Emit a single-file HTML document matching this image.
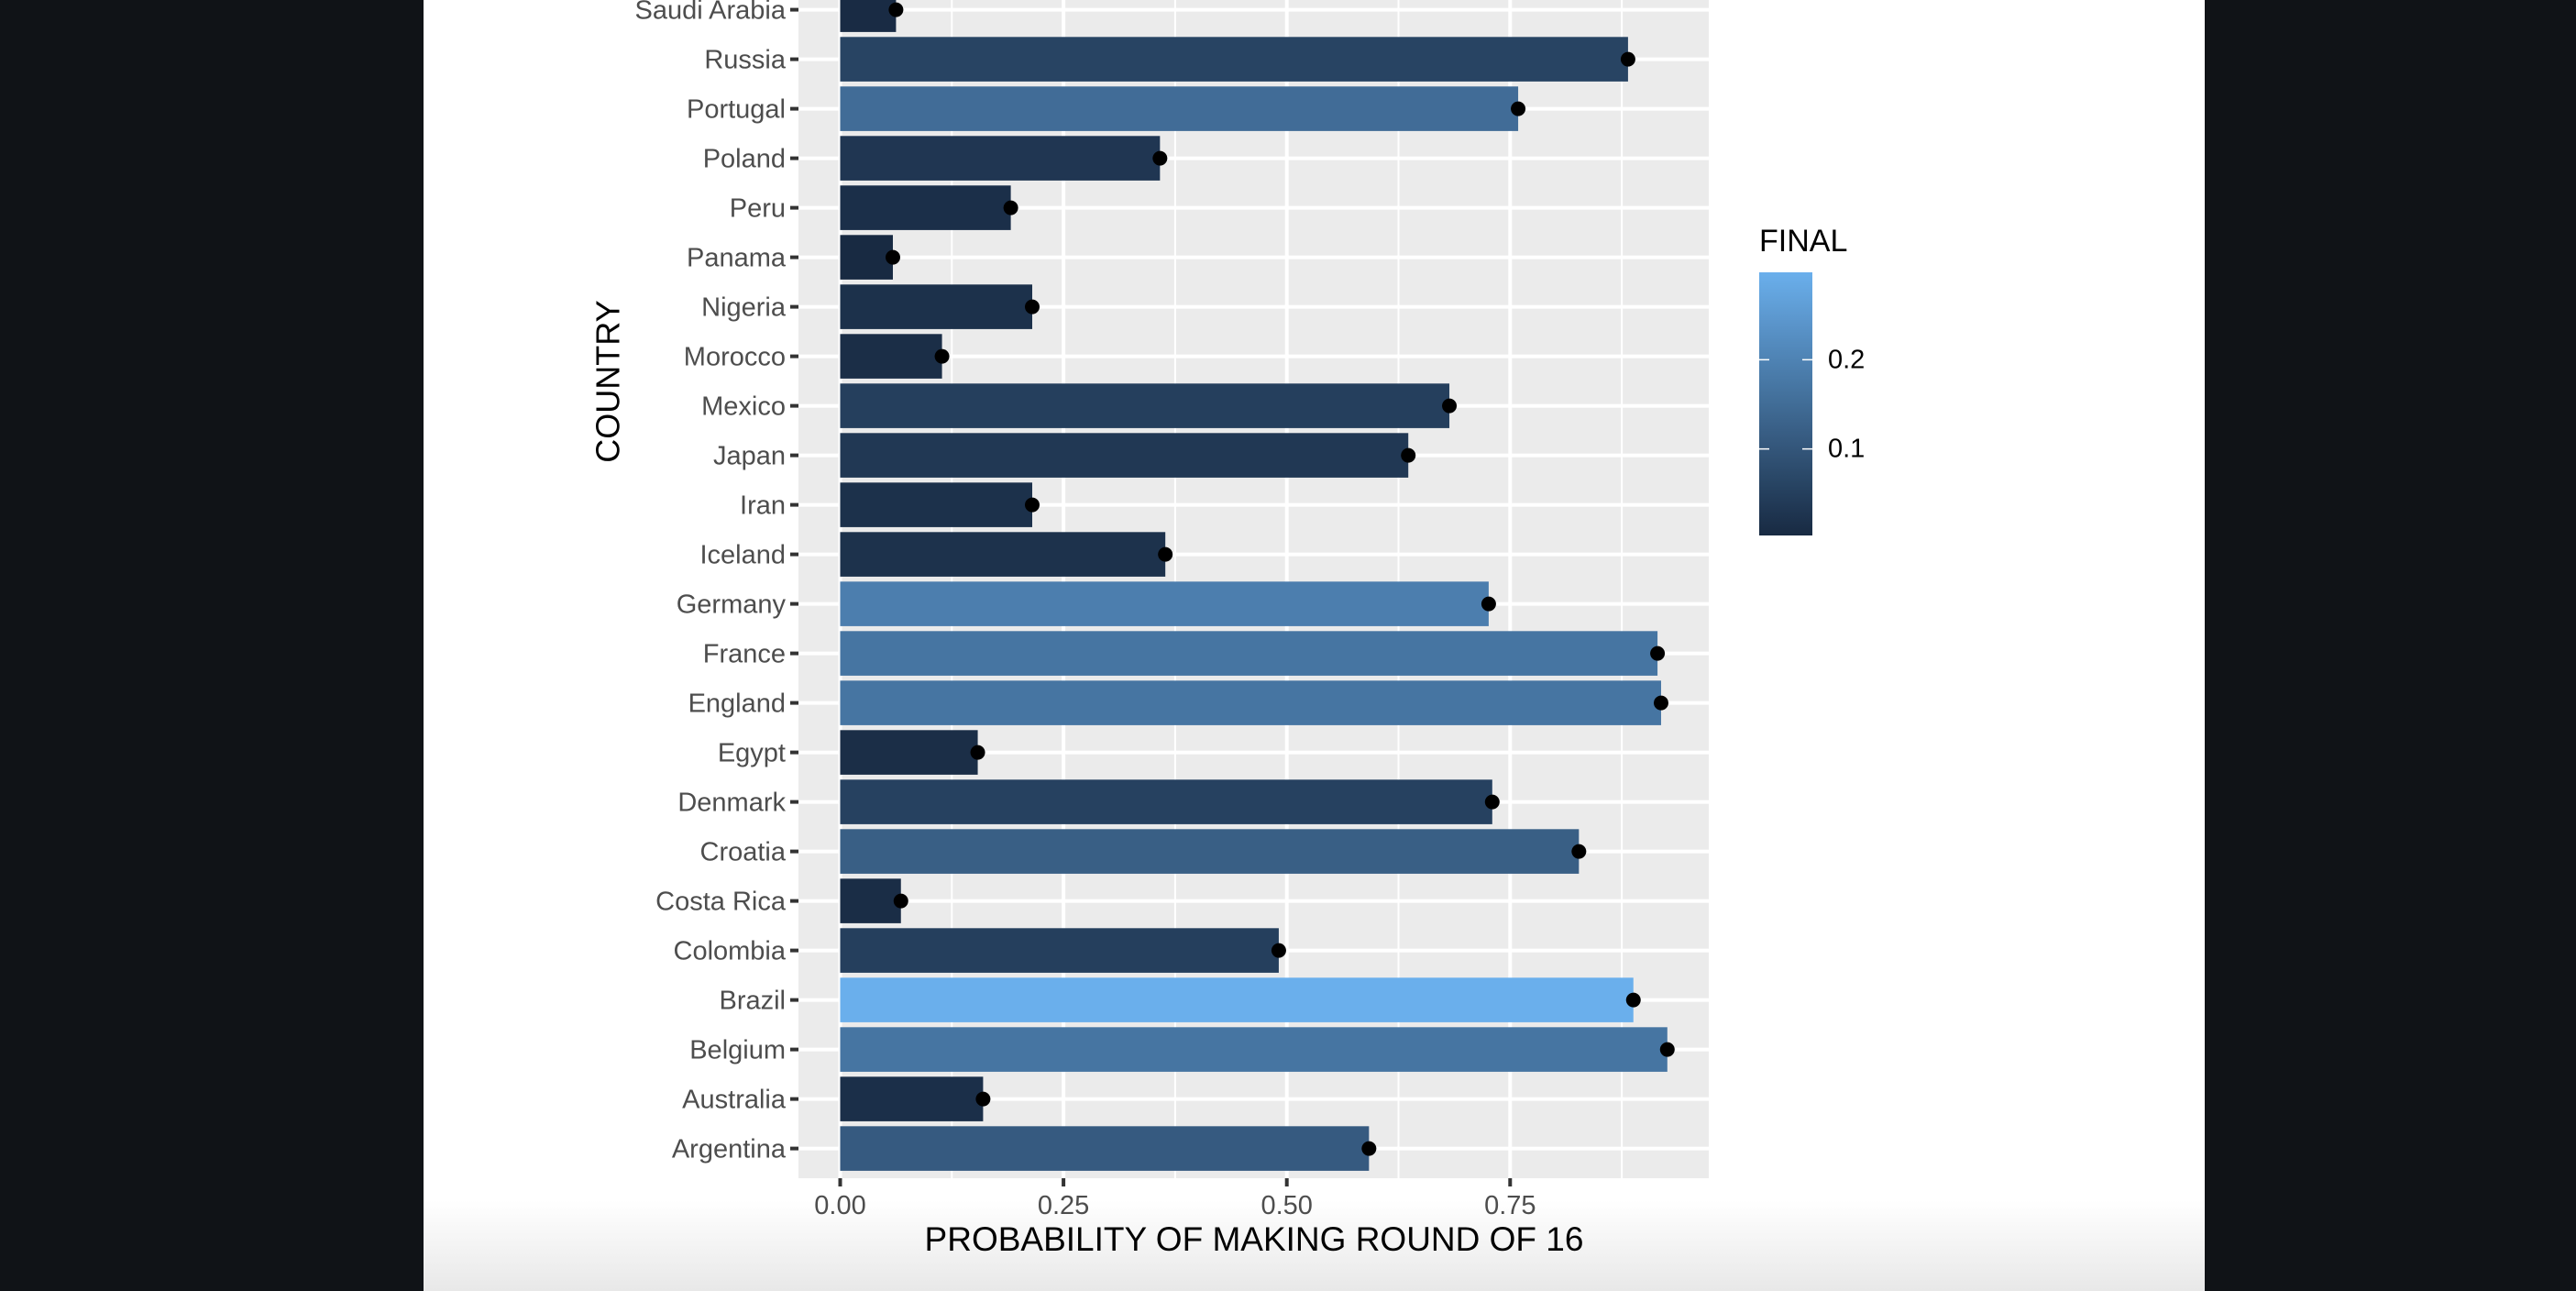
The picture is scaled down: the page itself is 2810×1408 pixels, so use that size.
<!DOCTYPE html>
<html><head><meta charset="utf-8"><style>
html,body{margin:0;padding:0;width:2810px;height:1408px;overflow:hidden;background:#101317;}
svg{display:block;font-family:"Liberation Sans",sans-serif;}
</style></head><body>
<svg id="chart" width="2810" height="1408" viewBox="0 0 2810 1408">
<defs>
<linearGradient id="pagefade" x1="0" y1="0" x2="0" y2="1">
<stop offset="0" stop-color="#ffffff"/><stop offset="0.93" stop-color="#ffffff"/><stop offset="1" stop-color="#e8e8e8"/>
</linearGradient>
<linearGradient id="cbar" x1="0" y1="1" x2="0" y2="0"></linearGradient>
</defs>
<rect x="0" y="0" width="2810" height="1408" fill="#101317"/>
<rect x="462" y="0" width="1943" height="1408" fill="url(#pagefade)"/>
<rect x="871" y="-30" width="993" height="1315" fill="#EBEBEB"/>
<g id="grid"></g>
<g id="bars"></g>
<g id="dots"></g>
<g id="yaxis"></g>
<g id="xaxis"></g>
<text x="663" y="416" transform="rotate(-90 663 416)" text-anchor="middle" dominant-baseline="central" font-size="36" fill="#000">COUNTRY</text>
<text x="1368" y="1364" text-anchor="middle" font-size="37" fill="#000">PROBABILITY OF MAKING ROUND OF 16</text>
<g id="legend">
<text x="1919" y="274" font-size="34" fill="#000">FINAL</text>
<rect x="1919" y="297" width="58" height="287" fill="url(#cbar)"/>
<g id="legendticks"></g>
</g>
</svg>
<script>
const countries=["Argentina","Australia","Belgium","Brazil","Colombia","Costa Rica","Croatia","Denmark","Egypt","England","France","Germany","Iceland","Iran","Japan","Mexico","Morocco","Nigeria","Panama","Peru","Poland","Portugal","Russia","Saudi Arabia"];
const r16=[0.592,0.160,0.926,0.888,0.491,0.068,0.827,0.730,0.154,0.919,0.915,0.726,0.364,0.215,0.636,0.682,0.114,0.215,0.059,0.191,0.358,0.759,0.882,0.0625];
const finalProb=[0.11,0.015,0.17,0.298,0.05,0.01,0.12,0.055,0.012,0.17,0.17,0.19,0.02,0.018,0.035,0.05,0.012,0.018,0.003,0.015,0.03,0.15,0.06,0.006];
const xTicks=[0,0.25,0.5,0.75];
const xTickLabels=["0.00","0.25","0.50","0.75"];
const legendTicks=[0.1,0.2];
const legendLabels=["0.1","0.2"];

const NS="http://www.w3.org/2000/svg";
const x0=916.5, xUnit=974.4, px0=871, px1=1864, py1=1285;
const rowBase=1252.6, rowStep=54.0;
const xs=v=>x0+v*xUnit;
const ys=i=>rowBase-i*rowStep;
const fmin=Math.min(...finalProb), fmax=Math.max(...finalProb);
const lo=[0x18,0x2A,0x42], hi=[0x6A,0xAF,0xEC];
function colT(t){return "rgb("+lo.map((c,k)=>Math.round(c+(hi[k]-c)*t)).join(",")+")";}
function col(v){return colT((v-fmin)/(fmax-fmin));}
function mk(tag,attrs,parent){const e=document.createElementNS(NS,tag);for(const k in attrs)e.setAttribute(k,attrs[k]);parent.appendChild(e);return e;}
const cg=document.getElementById("cbar");
for(let i=0;i<=10;i++){mk("stop",{offset:i/10,"stop-color":colT(i/10)},cg);}
const grid=document.getElementById("grid"),bars=document.getElementById("bars"),dots=document.getElementById("dots"),yax=document.getElementById("yaxis"),xax=document.getElementById("xaxis");
for(let i=0;i<xTicks.length;i++){
  const m=xTicks[i]+0.125;
  if(xs(m)<px1){const l=mk("line",{x1:xs(m),x2:xs(m),y1:-30,y2:py1,stroke:"#fff","stroke-width":2},grid);
  
  }
}
xTicks.forEach((t,i)=>{
  const l=mk("line",{x1:xs(t),x2:xs(t),y1:-30,y2:py1,stroke:"#fff","stroke-width":4},grid);
  
  
  const tk=mk("line",{x1:xs(t),x2:xs(t),y1:py1,y2:py1+9,stroke:"#333","stroke-width":4},xax);
  
  
  const tx=mk("text",{x:xs(t),y:1324,"text-anchor":"middle","font-size":29,fill:"#4D4D4D"},xax);
  tx.textContent=xTickLabels[i];
  
  
});
countries.forEach((c,i)=>{
  const y=ys(i);
  const g=mk("line",{x1:px0,x2:px1,y1:y,y2:y,stroke:"#fff","stroke-width":4},grid);
  
  
  const b=mk("rect",{x:xs(0),y:y-24.3,width:xs(r16[i])-xs(0),height:48.6,fill:col(finalProb[i])},bars);
  
  
  const d=mk("circle",{cx:xs(r16[i]),cy:y,r:8,fill:"#000"},dots);
  
  
  const tk=mk("line",{x1:px0-9,x2:px0,y1:y,y2:y,stroke:"#333","stroke-width":4},yax);
  
  
  const t=mk("text",{x:857,y:y+1,"text-anchor":"end","dominant-baseline":"central","font-size":29,fill:"#4D4D4D"},yax);
  t.textContent=c;
  
  
});
const lt=document.getElementById("legendticks");
const cbTop=297,cbBot=584;
const ly=v=>cbBot-(v-fmin)/(fmax-fmin)*(cbBot-cbTop);
legendTicks.forEach((v,i)=>{
  const y=ly(v);
  const a=mk("line",{x1:1919,x2:1930,y1:y,y2:y,stroke:"#fff","stroke-width":1.5},lt);
  
  
  const b=mk("line",{x1:1966,x2:1977,y1:y,y2:y,stroke:"#fff","stroke-width":1.5},lt);
  
  
  const t=mk("text",{x:1994,y:y,"dominant-baseline":"central","font-size":29,fill:"#000"},lt);
  t.textContent=legendLabels[i];
  
  
});
</script>
</body></html>
